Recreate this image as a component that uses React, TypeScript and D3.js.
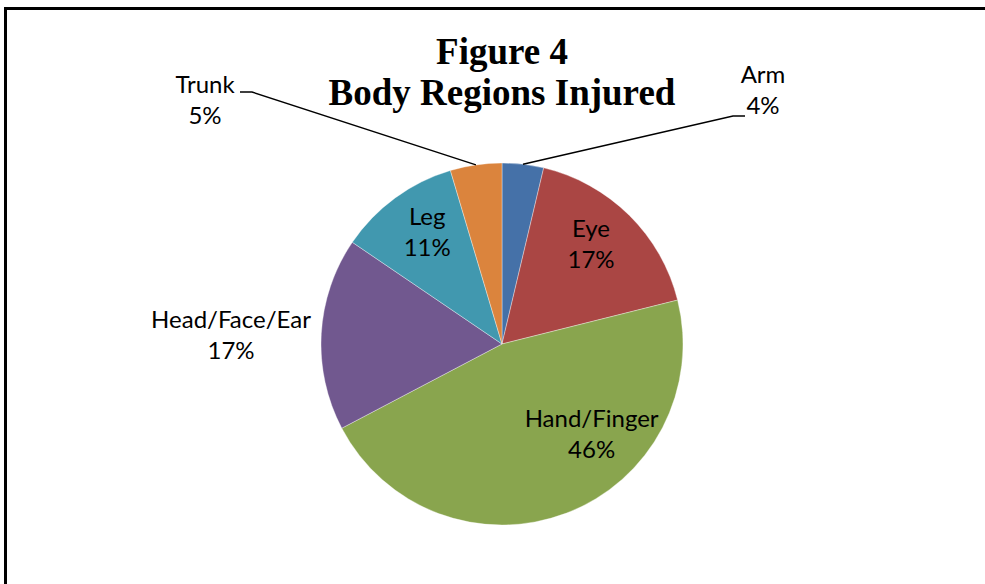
import { useEffect, useRef } from "react";
import * as d3 from "d3";

const regions = ["Arm", "Eye", "Hand/Finger", "Head/Face/Ear", "Leg", "Trunk"];
const shares = [3.7, 17.4, 46.2, 17.2, 10.9, 4.6];
const colors = ["#4571A8", "#AA4644", "#89A54E", "#71588F", "#4198AF", "#DB843D"];
const titleLines = ["Figure 4", "Body Regions Injured"];

const W = 985;
const H = 584;

const App = () => {
  const ref = useRef<SVGSVGElement | null>(null);

  useEffect(() => {
    const el = ref.current;
    if (!el) return;
    document.body.style.margin = "0";
    document.body.style.overflow = "hidden";
    const svg = d3.select(el);
    svg.selectAll("*").remove();

    const cx = 502;
    const cy = 344;
    const r = 181;
    const labelFont = "Lato, Calibri, Carlito, 'Open Sans', sans-serif";
    const lineH = 31;

    // frame: only the top and left edges fall inside the picture
    svg.append("path")
      .attr("d", `M5.5,${H + 10} L5.5,8.5 L${W + 10},8.5`)
      .attr("fill", "none")
      .attr("stroke", "#000")
      .attr("stroke-width", 3);

    // ── Title ─────────────────────────────────────────────
    svg.append("g")
      .selectAll("text")
      .data(titleLines)
      .enter()
      .append("text")
      .attr("x", cx)
      .attr("y", (_, i) => 64 + i * 41)
      .attr("text-anchor", "middle")
      .style("font-family", "'Liberation Serif', 'Times New Roman', serif")
      .style("font-weight", "700")
      .style("font-size", "37px")
      .style("fill", "#000")
      .text(d => d);

    // ── Pie ───────────────────────────────────────────────
    const data = regions.map((name, i) => ({ name, value: shares[i], color: colors[i] }));
    const total = d3.sum(shares);
    const pie = d3.pie<typeof data[number]>().value(d => d.value).sort(null);
    const arcs = pie(data);
    const arc = d3.arc<d3.PieArcDatum<typeof data[number]>>().innerRadius(0).outerRadius(r);

    const g = svg.append("g").attr("transform", `translate(${cx},${cy})`);
    g.selectAll("path")
      .data(arcs)
      .enter()
      .append("path")
      .attr("d", arc)
      .attr("fill", d => d.data.color)
      .attr("stroke", "rgba(255,255,255,0.6)")
      .attr("stroke-width", 0.6);

    const pct = (v: number) => `${Math.round((v / total) * 100)}%`;
    const polar = (a: number, rad: number): [number, number] => [Math.sin(a) * rad, -Math.cos(a) * rad];

    // label layout: inside labels sit on a ring, outside labels are placed beside the pie
    const inside: Record<string, { rad: number; angle?: number }> = {
      "Eye": { rad: 0.70 * r },
      "Hand/Finger": { rad: 0.74 * r, angle: 138 },
      "Leg": { rad: 0.70 * r },
    };
    const outside: Record<string, { dx: number; dy: number; leader?: [number, number] }> = {
      "Arm": { dx: 261, dy: -244.5, leader: [231, -228] },
      "Trunk": { dx: -297, dy: -234.5, leader: [-250, -252] },
      "Head/Face/Ear": { dx: -271, dy: 0 },
    };

    const labels = g.append("g");
    arcs.forEach(d => {
      const mid = (d.startAngle + d.endAngle) / 2;
      let lx = 0;
      let ly = 0;
      if (inside[d.data.name]) {
        const o = inside[d.data.name];
        const a = o.angle !== undefined ? (o.angle * Math.PI) / 180 : mid;
        [lx, ly] = polar(a, o.rad);
      } else {
        const o = outside[d.data.name];
        lx = o.dx;
        ly = o.dy;
        if (o.leader) {
          const [sx, sy] = polar(mid, r);
          const [ex, ey] = o.leader;
          const hx = ex + (ex > 0 ? 12 : -12);
          labels.append("path")
            .attr("d", `M${sx},${sy} L${ex},${ey} L${hx},${ey}`)
            .attr("fill", "none")
            .attr("stroke", "#000")
            .attr("stroke-width", 1.4);
        }
      }
      const t = labels.append("text")
        .attr("x", lx)
        .attr("y", ly)
        .attr("text-anchor", "middle")
        .style("font-family", labelFont)
        .style("font-size", "24px")
        .style("fill", "#000");
      t.append("tspan").attr("x", lx).attr("dy", -lineH / 2 - 1).text(d.data.name);
      t.append("tspan").attr("x", lx).attr("dy", lineH).text(pct(d.data.value));
    });
  }, []);

  return (
    <svg
      ref={ref}
      width={W}
      height={H}
      style={{ position: "fixed", left: 0, top: 0, display: "block", background: "#fff" }}
    />
  );
};

export default App;
